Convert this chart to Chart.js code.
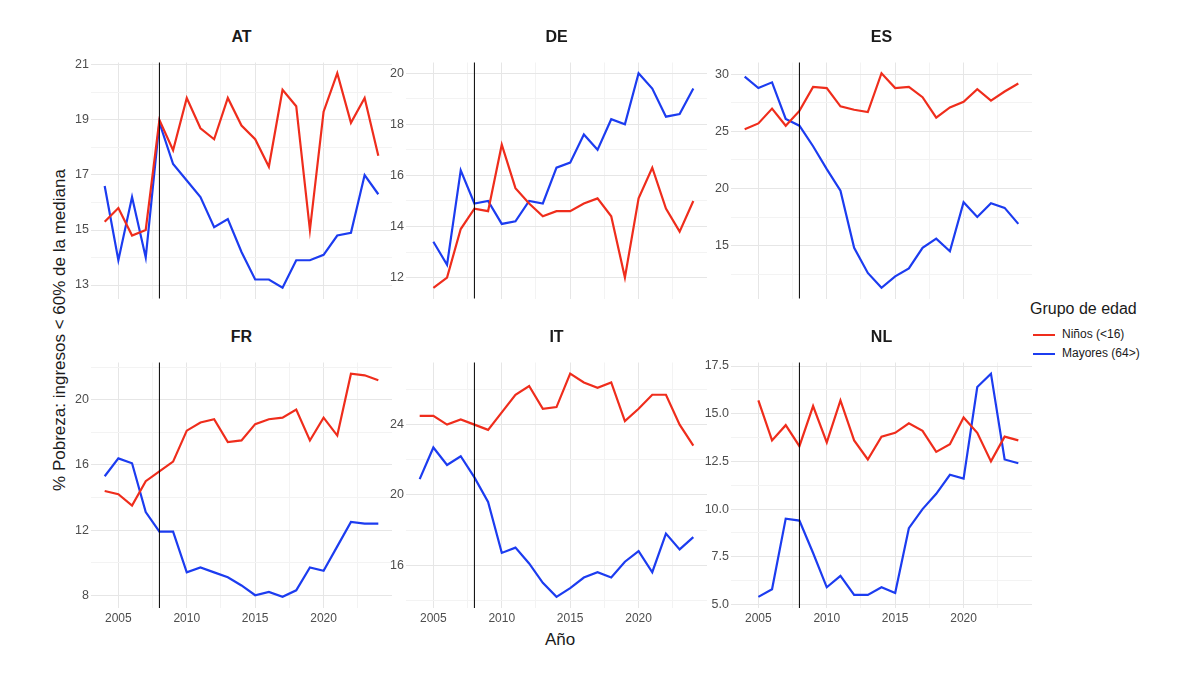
<!DOCTYPE html>
<html>
<head>
<meta charset="utf-8">
<script src="https://cdn.jsdelivr.net/npm/chart.js@4.4.0/dist/chart.umd.min.js"></script>
<style>
  body { margin: 0; width: 1200px; height: 675px; background: #fff; position: relative; font-family: "Liberation Sans", Arial, sans-serif; overflow: hidden; }
  .wrap { position: absolute; }
  .ttl { position: absolute; font-weight: bold; font-size: 16px; color: #1a1a1a; text-align: center; width: 301px; }
  .lbl { position: absolute; color: #1a1a1a; }
</style>
</head>
<body>
<div class="lbl" style="left:-130px;top:320px;width:380px;text-align:center;font-size:17px;transform:rotate(-90deg);">% Pobreza: ingresos &lt; 60% de la mediana</div>
<div class="lbl" style="left:530px;top:630px;width:60px;text-align:center;font-size:17px;">Año</div>
<div class="lbl" style="left:1030px;top:300px;font-size:16px;">Grupo de edad</div>
<div style="position:absolute;left:1033px;top:334px;width:22px;height:2px;background:#ef2d1c"></div>
<div class="lbl" style="left:1062px;top:327px;font-size:12px;">Niños (&lt;16)</div>
<div style="position:absolute;left:1033px;top:353px;width:22px;height:2px;background:#1c3cf0"></div>
<div class="lbl" style="left:1062px;top:346px;font-size:12px;">Mayores (64&gt;)</div>
<div id="root"></div>
<script>
// === DATA ===
const years = Array.from({ length: 21 }, (_, k) => 2004 + k);

const atKids = [15.3,15.8,14.8,15.0,19.0,17.9,19.8,18.7,18.3,19.8,18.8,18.3,17.3,20.1,19.5,15.0,19.3,20.7,18.9,19.8,17.7];
const atOld  = [16.6,13.9,16.2,14.0,18.9,17.4,16.8,16.2,15.1,15.4,14.2,13.2,13.2,12.9,13.9,13.9,14.1,14.8,14.9,17.0,16.3];

const deKids = [null,11.6,12.0,13.9,14.7,14.6,17.2,15.5,14.9,14.4,14.6,14.6,14.9,15.1,14.4,12.0,15.1,16.3,14.7,13.8,15.0];
const deOld  = [null,13.4,12.5,16.2,14.9,15.0,14.1,14.2,15.0,14.9,16.3,16.5,17.6,17.0,18.2,18.0,20.0,19.4,18.3,18.4,19.4];

const esKids = [25.2,25.7,27.0,25.5,26.8,28.9,28.8,27.2,26.9,26.7,30.1,28.8,28.9,28.0,26.2,27.1,27.6,28.7,27.7,28.5,29.2];
const esOld  = [29.8,28.8,29.3,26.1,25.5,23.7,21.7,19.8,14.8,12.6,11.3,12.3,13.0,14.8,15.6,14.5,18.8,17.5,18.7,18.3,16.9];

const frKids = [14.4,14.2,13.5,15.0,15.6,16.2,18.1,18.6,18.8,17.4,17.5,18.5,18.8,18.9,19.4,17.5,18.9,17.8,21.6,21.5,21.2];
const frOld  = [15.3,16.4,16.1,13.1,11.9,11.9,9.4,9.7,9.4,9.1,8.6,8.0,8.2,7.9,8.3,9.7,9.5,11.0,12.5,12.4,12.4];

const itKids = [24.5,24.5,24.0,24.3,24.0,23.7,24.7,25.7,26.2,24.9,25.0,26.9,26.4,26.1,26.4,24.2,24.9,25.7,25.7,24.0,22.8];
const itOld  = [20.9,22.7,21.7,22.2,21.0,19.6,16.7,17.0,16.1,15.0,14.2,14.7,15.3,15.6,15.3,16.2,16.8,15.6,17.8,16.9,17.6];

const nlKids = [null,15.7,13.6,14.4,13.3,15.4,13.5,15.7,13.6,12.6,13.8,14.0,14.5,14.1,13.0,13.4,14.8,14.0,12.5,13.8,13.6];
const nlOld  = [null,5.4,5.8,9.5,9.4,7.7,5.9,6.5,5.5,5.5,5.9,5.6,9.0,10.0,10.8,11.8,11.6,16.4,17.1,12.6,12.4];

const xTicks = [2005, 2007.5, 2010, 2012.5, 2015, 2017.5, 2020, 2022.5];
const xLabels = [2005, 2010, 2015, 2020];

const panels = [
  { name: 'AT', kids: atKids, old: atOld, yMin: 12.51, yMax: 21.09, ticks: [13,14,15,16,17,18,19,20,21], labels: [13,15,17,19,21] },
  { name: 'DE', kids: deKids, old: deOld, yMin: 11.18, yMax: 20.42, ticks: [12,13,14,15,16,17,18,19,20], labels: [12,14,16,18,20] },
  { name: 'ES', kids: esKids, old: esOld, yMin: 10.36, yMax: 31.04, ticks: [12.5,15,17.5,20,22.5,25,27.5,30], labels: [15,20,25,30] },
  { name: 'FR', kids: frKids, old: frOld, yMin: 7.215, yMax: 22.285, ticks: [8,10,12,14,16,18,20,22], labels: [8,12,16,20] },
  { name: 'IT', kids: itKids, old: itOld, yMin: 13.565, yMax: 27.535, ticks: [14,16,18,20,22,24,26], labels: [16,20,24] },
  { name: 'NL', kids: nlKids, old: nlOld, yMin: 4.815, yMax: 17.685, ticks: [5,6.25,7.5,8.75,10,11.25,12.5,13.75,15,16.25,17.5], labels: [5,7.5,10,12.5,15,17.5], fixed: 1 }
];

const RED = '#ef2d1c', BLUE = '#1c3cf0';
const lefts = [91, 406, 731];
const tops = [53, 353];
const W = 301, H = 255, AX = 40;

const crisisLine = {
  id: 'crisis',
  afterDatasetsDraw(chart) {
    const { ctx, chartArea: a, scales: { x } } = chart;
    const px = x.getPixelForValue(2008);
    ctx.save();
    ctx.strokeStyle = '#000'; ctx.lineWidth = 1;
    ctx.beginPath(); ctx.moveTo(px, a.top); ctx.lineTo(px, a.bottom); ctx.stroke();
    ctx.restore();
  }
};

const root = document.getElementById('root');
panels.forEach((p, idx) => {
  const col = idx % 3, row = Math.floor(idx / 3);
  const bottom = row === 1;
  const wrap = document.createElement('div');
  wrap.className = 'wrap';
  wrap.style.left = (lefts[col] - AX) + 'px';
  wrap.style.top = tops[row] + 'px';
  wrap.style.width = (W + AX) + 'px';
  wrap.style.height = (H + (bottom ? 22 : 0)) + 'px';
  const cv = document.createElement('canvas');
  wrap.appendChild(cv);
  root.appendChild(wrap);

  const t = document.createElement('div');
  t.className = 'ttl'; t.textContent = p.name;
  t.style.left = lefts[col] + 'px'; t.style.top = (tops[row] - 25) + 'px';
  root.appendChild(t);

  const pts = arr => years.map((y, k) => ({ x: y, y: arr[k] })).filter(d => d.y !== null);

  new Chart(cv, {
    type: 'line',
    data: {
      datasets: [
        { data: pts(p.kids), borderColor: RED, borderWidth: 2.2, pointRadius: 0, tension: 0 },
        { data: pts(p.old), borderColor: BLUE, borderWidth: 2.2, pointRadius: 0, tension: 0 }
      ]
    },
    options: {
      responsive: true, maintainAspectRatio: false, animation: false,
      layout: { padding: 0 },
      plugins: { legend: { display: false }, tooltip: { enabled: false } },
      scales: {
        x: {
          type: 'linear', min: 2003, max: 2025,
          afterBuildTicks: ax => { ax.ticks = xTicks.map(v => ({ value: v })); },
          afterFit: ax => { ax.height = bottom ? 22 : 0; },
          grid: { color: c => xLabels.includes(c.tick && c.tick.value) ? '#e6e6e6' : '#f3f3f3', lineWidth: 1, drawTicks: false },
          border: { display: false },
          ticks: { display: bottom, autoSkip: false, maxRotation: 0, padding: 3, color: '#4d4d4d', font: { size: 12, family: 'Liberation Sans' },
                   callback: v => xLabels.includes(v) ? String(v) : '' }
        },
        y: {
          min: p.yMin, max: p.yMax,
          afterBuildTicks: ax => { ax.ticks = p.ticks.map(v => ({ value: v })); },
          afterFit: ax => { ax.width = AX; },
          grid: { color: c => p.labels.includes(c.tick && c.tick.value) ? '#e6e6e6' : '#f3f3f3', lineWidth: 1, drawTicks: false },
          border: { display: false },
          ticks: { autoSkip: false, padding: 2, color: '#4d4d4d', font: { size: 12.5, family: 'Liberation Sans' },
                   callback: v => p.labels.includes(v) ? (p.fixed ? v.toFixed(1) : String(v)) : '' }
        }
      }
    },
    plugins: [crisisLine]
  });
});
</script>
</body>
</html>
